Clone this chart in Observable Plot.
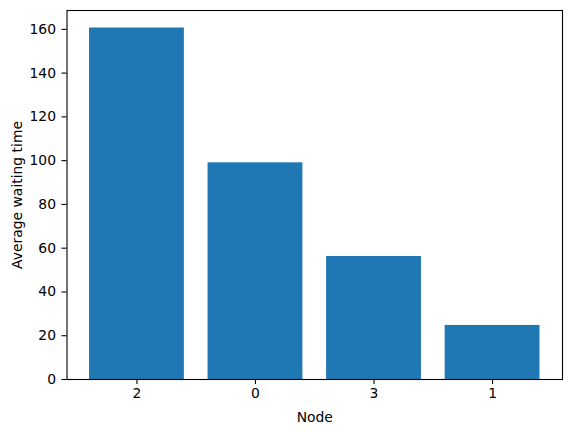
<!DOCTYPE html>
<html>
<head>
<meta charset="utf-8">
<script src="https://cdn.jsdelivr.net/npm/d3@7"></script>
<script src="https://cdn.jsdelivr.net/npm/@observablehq/plot@0.6"></script>
<style>
  html, body { margin: 0; padding: 0; background: #fff; }
  svg { font-family: "DejaVu Sans", sans-serif; }
</style>
</head>
<body>
<div id="chart"></div>
<script>
const nodes = ["2", "0", "3", "1"];
const waiting = [160.6, 99.0, 56.2, 24.7];
const yTicks = [0, 20, 40, 60, 80, 100, 120, 140, 160];

const data = nodes.map((n, i) => ({node: n, value: waiting[i]}));

const chart = Plot.plot({
  width: 571,
  height: 432,
  marginLeft: 66.5,
  marginRight: 9,
  marginTop: 10,
  marginBottom: 53,
  style: {fontFamily: "DejaVu Sans, sans-serif", fontSize: "13.9px", color: "#000", background: "#fff"},
  x: {domain: nodes, paddingInner: 0.2, paddingOuter: 0.19, round: false},
  y: {domain: [0, 168.6]},
  marks: [
    Plot.barY(data, {x: "node", y: "value", fill: "#1f77b4"}),
    Plot.frame({stroke: "#000", strokeWidth: 1.1}),
    Plot.axisX({tickSize: 5, tickPadding: 4, label: "Node", labelAnchor: "center", labelArrow: "none", labelOffset: 42, stroke: "#000", strokeWidth: 1.1, fill: "#000"}),
    Plot.axisY({ticks: yTicks, tickSize: 5, tickPadding: 6, label: "Average waiting time", labelAnchor: "center", labelArrow: "none", labelOffset: 55, stroke: "#000", strokeWidth: 1.1, fill: "#000"})
  ]
});
document.getElementById("chart").appendChild(chart);
</script>
</body>
</html>
